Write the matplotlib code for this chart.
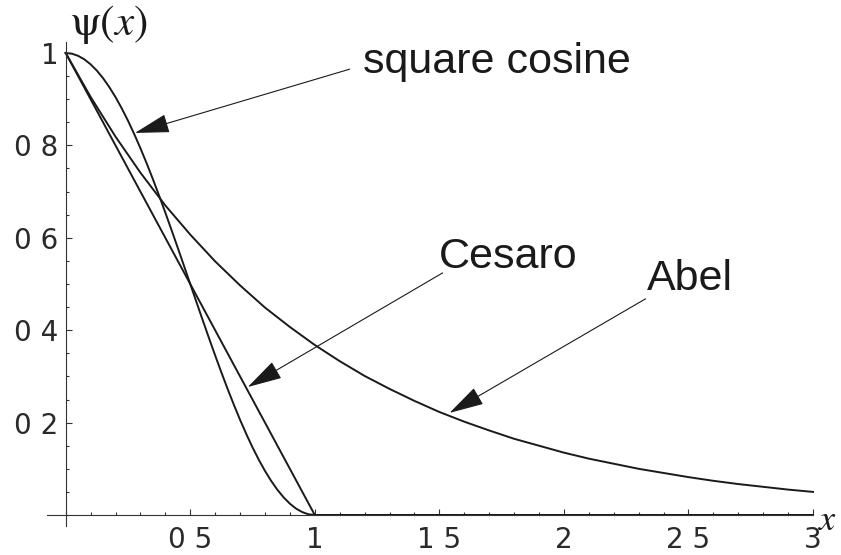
import matplotlib.pyplot as plt
from matplotlib.ticker import MultipleLocator

# Kernel values psi(x) for three summation methods
abel_x = [0.0, 0.1, 0.2, 0.3, 0.4, 0.5, 0.6, 0.7, 0.8, 0.9, 1.0,
          1.1, 1.2, 1.3, 1.4, 1.5, 1.6, 1.7, 1.8, 1.9, 2.0,
          2.1, 2.2, 2.3, 2.4, 2.5, 2.6, 2.7, 2.8, 2.9, 3.0]
abel_y = [1.000, 0.905, 0.819, 0.741, 0.670, 0.607, 0.549, 0.497, 0.449, 0.407, 0.368,
          0.333, 0.301, 0.273, 0.247, 0.223, 0.202, 0.183, 0.165, 0.150, 0.135,
          0.122, 0.111, 0.100, 0.091, 0.082, 0.074, 0.067, 0.061, 0.055, 0.050]

cesaro_x = [0.0, 1.0, 3.0]
cesaro_y = [1.0, 0.0, 0.0]

sqcos_x = [0.0, 0.025, 0.05, 0.075, 0.1, 0.125, 0.15, 0.175, 0.2, 0.225,
           0.25, 0.275, 0.3, 0.325, 0.35, 0.375, 0.4, 0.425, 0.45, 0.475,
           0.5, 0.525, 0.55, 0.575, 0.6, 0.625, 0.65, 0.675, 0.7, 0.725,
           0.75, 0.775, 0.8, 0.825, 0.85, 0.875, 0.9, 0.925, 0.95, 0.975,
           1.0, 3.0]
sqcos_y = [1.0, 0.9985, 0.9938, 0.9862, 0.9755, 0.9619, 0.9455, 0.9263, 0.9045, 0.8802,
           0.8536, 0.8247, 0.7939, 0.7613, 0.7270, 0.6913, 0.6545, 0.6167, 0.5782, 0.5392,
           0.5, 0.4608, 0.4218, 0.3833, 0.3455, 0.3087, 0.2730, 0.2388, 0.2061, 0.1753,
           0.1464, 0.1198, 0.0955, 0.0737, 0.0545, 0.0381, 0.0245, 0.0138, 0.0062, 0.0015,
           0.0, 0.0]

xticks = [0.5, 1.0, 1.5, 2.0, 2.5, 3.0]
xlabels = ['0 5', '1', '1 5', '2', '2 5', '3']
yticks = [0.2, 0.4, 0.6, 0.8, 1.0]
ylabels = ['0 2', '0 4', '0 6', '0 8', '1']

plt.rcParams['mathtext.fontset'] = 'stix'

fig = plt.figure(figsize=(8.41, 5.55), dpi=100)
ax = fig.add_axes([47 / 841, 29 / 555, 766 / 841, 484 / 555])

ink = '#1a1a1a'
ax.plot(abel_x, abel_y, color=ink, lw=1.4, clip_on=False)
ax.plot(cesaro_x, cesaro_y, color=ink, lw=1.4, clip_on=False)
ax.plot(sqcos_x, sqcos_y, color=ink, lw=1.4, clip_on=False)

ax.set_xlim(-0.075, 3.0)
ax.set_ylim(-0.0238, 1.0238)

for side in ['top', 'right']:
    ax.spines[side].set_visible(False)
for side in ['left', 'bottom']:
    ax.spines[side].set_position(('data', 0))
    ax.spines[side].set_linewidth(0.8)
    ax.spines[side].set_color('#333333')

ax.set_xticks(xticks)
ax.set_xticklabels(xlabels)
ax.set_yticks(yticks)
ax.set_yticklabels(ylabels)
ax.xaxis.set_minor_locator(MultipleLocator(0.1))
ax.yaxis.set_minor_locator(MultipleLocator(0.05))
ax.tick_params(which='both', direction='in', color='#333333', width=0.8,
               labelsize=20, labelcolor='#2a2a2a')
ax.tick_params(which='major', length=4.5)
ax.tick_params(which='minor', length=2.5)
ax.tick_params(axis='x', pad=8)
ax.tick_params(axis='y', pad=5)

# axis names
ax.text(0.017, 1.039, r'$\mathrm{\psi}(x)$', fontsize=31, color=ink,
        ha='left', va='baseline', clip_on=False)
ax.text(3.02, -0.032, r'$x$', fontsize=26, color=ink,
        ha='left', va='baseline', clip_on=False)

# curve labels with pointers
label_font = dict(family='Liberation Sans', fontsize=31, color=ink,
                  ha='left', va='baseline')
ax.text(1.193, 0.957, 'square cosine', **label_font)
ax.text(1.497, 0.535, 'Cesaro', **label_font)
ax.text(2.332, 0.487, 'Abel', **label_font)

arrow = dict(arrowstyle='-|>,head_length=2.2,head_width=0.6',
             color=ink, lw=0.8, shrinkA=0, shrinkB=0)
ax.annotate('', xy=(0.278, 0.827), xytext=(1.140, 0.965), arrowprops=arrow)
ax.annotate('', xy=(0.731, 0.277), xytext=(1.513, 0.524), arrowprops=arrow)
ax.annotate('', xy=(1.541, 0.221), xytext=(2.328, 0.468), arrowprops=arrow)

plt.savefig('out.png', dpi=100)
